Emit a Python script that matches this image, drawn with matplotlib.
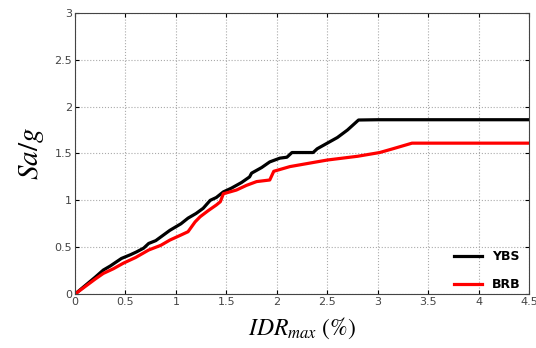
import numpy as np
import matplotlib.pyplot as plt

plt.rcParams['mathtext.fontset'] = 'stix'

# YBS curve
ybs_x = [0, 0.1, 0.2, 0.28, 0.35, 0.46, 0.55, 0.61, 0.68, 0.73, 0.8, 0.94, 1.05, 1.12,
         1.2, 1.27, 1.34, 1.4, 1.47, 1.55, 1.65, 1.73, 1.75, 1.85, 1.93, 2.03,
         2.1, 2.15, 2.36, 2.4, 2.5, 2.6, 2.7, 2.81, 3.0, 4.5]
ybs_y = [0, 0.09, 0.18, 0.256, 0.3, 0.38, 0.42, 0.45, 0.49, 0.54, 0.57, 0.68, 0.75, 0.81,
         0.86, 0.915, 1.0, 1.03, 1.09, 1.13, 1.19, 1.25, 1.29, 1.35, 1.41, 1.45,
         1.46, 1.51, 1.51, 1.55, 1.61, 1.67, 1.75, 1.857, 1.86, 1.86]

# BRB curve
brb_x = [0, 0.1, 0.2, 0.28, 0.38, 0.48, 0.6, 0.73, 0.85, 0.94, 1.05, 1.12, 1.19,
         1.24, 1.32, 1.4, 1.44, 1.47, 1.6, 1.7, 1.8, 1.93, 1.97, 2.13, 2.5,
         2.8, 3.02, 3.15, 3.34, 4.5]
brb_y = [0, 0.08, 0.16, 0.22, 0.27, 0.33, 0.39, 0.47, 0.52, 0.576, 0.63, 0.665, 0.77,
         0.825, 0.89, 0.95, 0.985, 1.07, 1.11, 1.16, 1.2, 1.217, 1.31, 1.36, 1.43,
         1.47, 1.51, 1.55, 1.61, 1.61]

fig = plt.figure(figsize=(5.36, 3.48), dpi=100)
ax = fig.add_axes([0.140, 0.155, 0.847, 0.808])

ax.plot(ybs_x, ybs_y, color='black', lw=2.3, label='YBS')
ax.plot(brb_x, brb_y, color='#ff0000', lw=2.3, label='BRB')

ax.set_xlim(0, 4.5)
ax.set_ylim(0, 3)
ax.set_xticks(np.arange(0, 4.51, 0.5))
ax.set_yticks(np.arange(0, 3.01, 0.5))
ax.set_xticklabels(['0', '0.5', '1', '1.5', '2', '2.5', '3', '3.5', '4', '4.5'])
ax.set_yticklabels(['0', '0.5', '1', '1.5', '2', '2.5', '3'])
ax.tick_params(direction='in', top=True, right=True, labelsize=8, labelcolor='#444444',
               length=3, pad=2)
ax.grid(True, linestyle=':', color='#aaaaaa', lw=0.8)
for s in ax.spines.values():
    s.set_color('#444444')

ax.set_xlabel(r'$IDR_{max}\ (\%)$', fontsize=17, labelpad=6)
ax.set_ylabel(r'$Sa/g$', fontsize=21, labelpad=6)

leg = ax.legend(loc='lower right', bbox_to_anchor=(1.0, -0.02), frameon=False,
                prop={'weight': 'bold', 'size': 9},
                handlelength=2.2, labelspacing=1.2, borderaxespad=0.3)

fig.savefig('out.png', dpi=100)
